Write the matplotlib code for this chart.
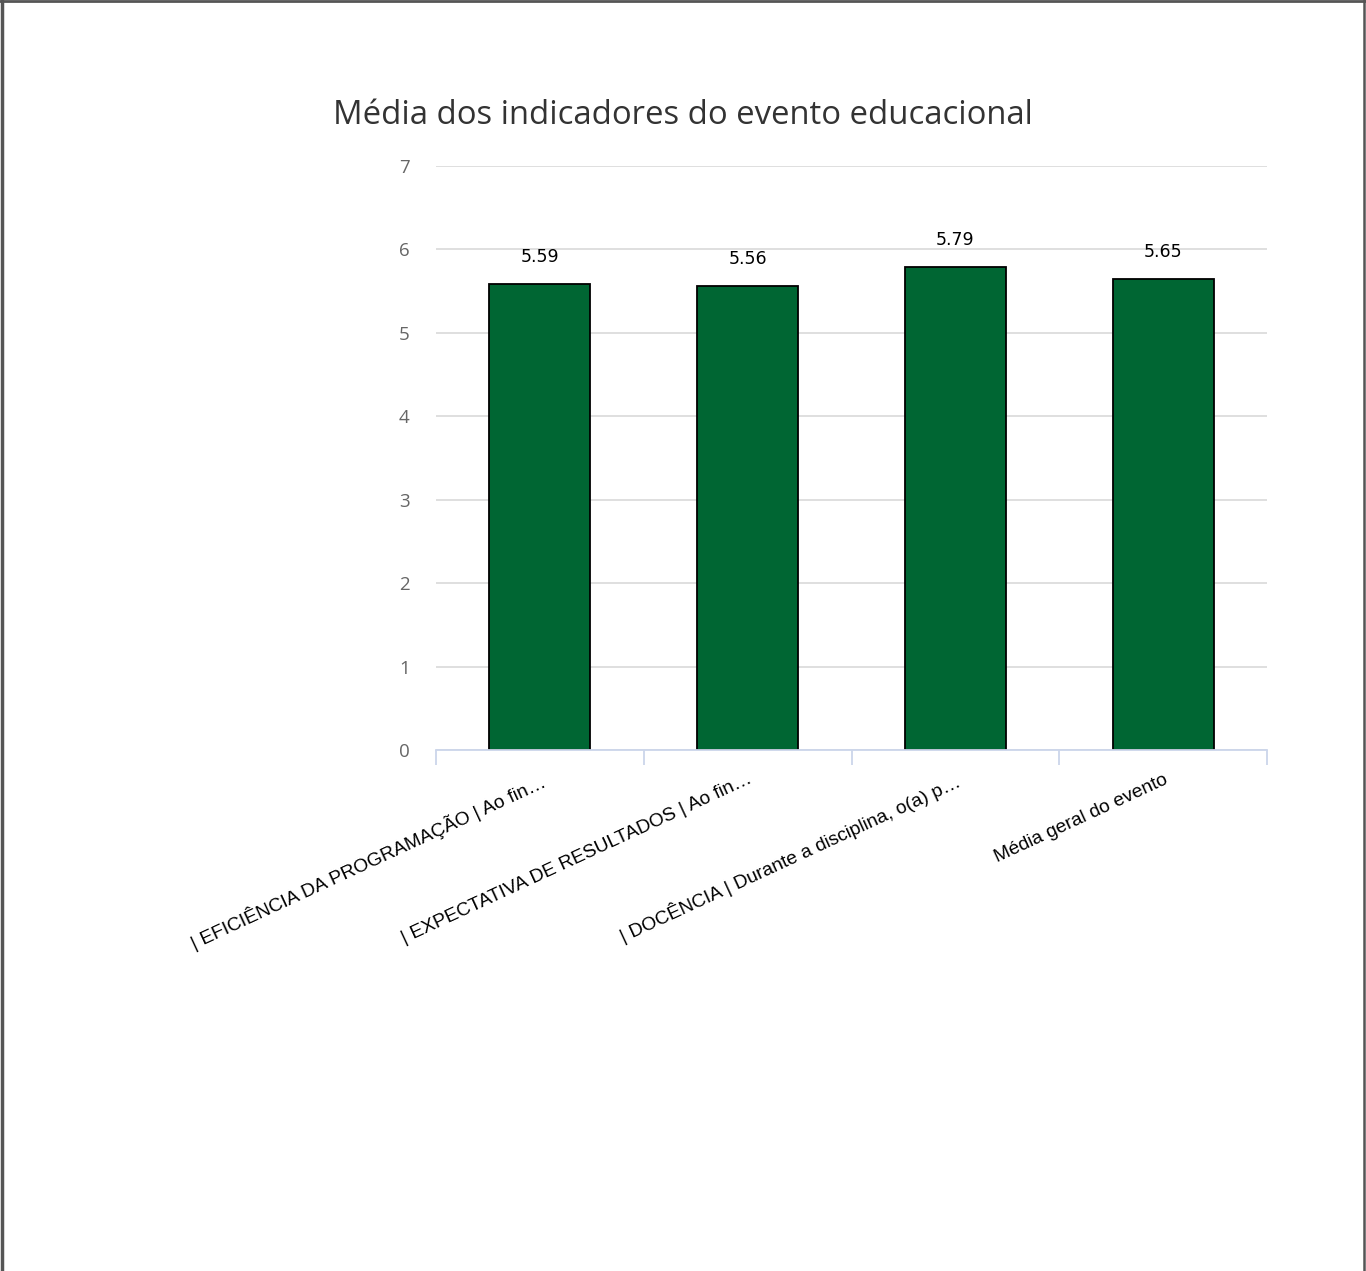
import matplotlib
matplotlib.use("Agg")
import matplotlib.pyplot as plt
from matplotlib.lines import Line2D
import numpy as np

title = "Média dos indicadores do evento educacional"
categories = [
    "| EFICIÊNCIA DA PROGRAMAÇÃO | Ao fin…",
    "| EXPECTATIVA DE RESULTADOS | Ao fin…",
    "| DOCÊNCIA | Durante a disciplina, o(a) p…",
    "Média geral do evento",
]
values = [5.59, 5.56, 5.79, 5.65]
value_labels = ["5.59", "5.56", "5.79", "5.65"]
yticks = [0, 1, 2, 3, 4, 5, 6, 7]

W, H = 1366, 1271
fig = plt.figure(figsize=(W / 100, H / 100), dpi=100)
fig.patch.set_facecolor("white")

left, right = 436 / W, 1267 / W
bottom, top = (H - 750) / H, (H - 166) / H
ax = fig.add_axes([left, bottom, right - left, top - bottom])

x = np.arange(len(categories))
ax.bar(x, values, width=0.486, color="#006633", edgecolor="black", linewidth=1.3, zorder=3)

ax.set_xlim(-0.5, len(categories) - 0.5)
ax.set_ylim(0, 7)
ax.set_yticks(yticks)
ax.set_yticklabels([str(t) for t in yticks], fontfamily="Open Sans", fontsize=13.5, color="#666666")
ax.tick_params(axis="y", length=0, pad=19)
ax.yaxis.grid(True, color="#d9d9d9", linewidth=1.2, zorder=0)
ax.set_axisbelow(True)

for s in ["top", "right", "left"]:
    ax.spines[s].set_visible(False)
ax.spines["bottom"].set_color("#ccd6eb")
ax.spines["bottom"].set_linewidth(1.3)
ax.spines["bottom"].set_zorder(4)

# category boundary ticks
ax.set_xticks(np.arange(-0.5, len(categories), 1.0), minor=False)
ax.set_xticklabels([])
ax.tick_params(axis="x", length=11, color="#ccd6eb", width=1.3, direction="out")

for xi, lab in zip(x, categories):
    ax.annotate(lab, xy=(xi, 0), xycoords=("data", "axes fraction"),
                xytext=(0, -15), textcoords="offset points",
                rotation=24.8, ha="right", va="top", rotation_mode="anchor",
                fontfamily="Liberation Sans", fontsize=13.8, color="black")

for xi, v, lab in zip(x, values, value_labels):
    ax.annotate(lab, xy=(xi, v), xytext=(0, 13), textcoords="offset points",
                ha="center", va="bottom", fontfamily="DejaVu Sans", fontsize=12.5,
                color="black")

fig.text(0.5, (H - 116) / H, title, ha="center", va="center",
         fontfamily="Open Sans", fontsize=23.7, color="#333333")

# outer frame lines (top, left, right)
fig.add_artist(Line2D([0, 1], [1 - 1 / H, 1 - 1 / H], transform=fig.transFigure, color="#555555", linewidth=2.0))
fig.add_artist(Line2D([1.5 / W, 1.5 / W], [0, 1], transform=fig.transFigure, color="#555555", linewidth=2.5))
fig.add_artist(Line2D([1 - 2 / W, 1 - 2 / W], [0, 1], transform=fig.transFigure, color="#555555", linewidth=1.8))

fig.savefig("out.png", dpi=100, facecolor="white")
